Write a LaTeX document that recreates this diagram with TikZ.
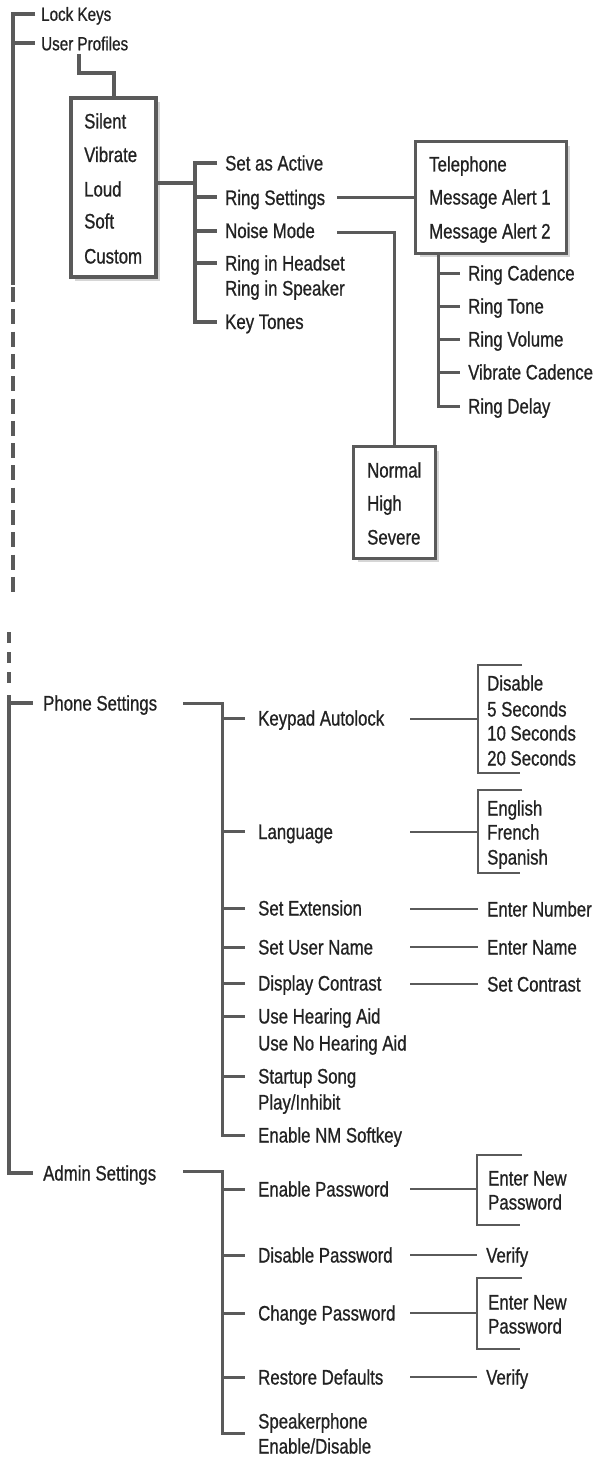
\documentclass[tikz,border=0pt]{standalone}
\usepackage{fontspec}
\setmainfont{Liberation Sans}[FakeStretch=0.8,FakeBold=0.8]
\usetikzlibrary{shadows}
\definecolor{ln}{HTML}{5A5A5A}
\definecolor{tx}{HTML}{222222}
\definecolor{shd}{HTML}{D6D6D6}
\begin{document}
\begin{tikzpicture}[x=1pt,y=-1pt,
  lbl/.style={anchor=west, inner sep=0pt, text height=15pt, text depth=0pt, text=tx, font=\fontsize{21}{25}\selectfont},
  slbl/.style={lbl, text height=13.6pt, font=\fontsize{19}{23}\selectfont},
  boxed/.style={draw=ln, fill=white, inner sep=0pt, general shadow={fill=shd, shadow xshift=4pt, shadow yshift=-4pt}},
  wA/.style={draw=ln, line width=4pt},
  wB/.style={draw=ln, line width=3pt},
  wC/.style={draw=ln, line width=2.2pt}]
\useasboundingbox (0,0) rectangle (597,1458);

% ---------- top section ----------
\node[slbl] (lk) at (41,14) {Lock Keys};
\node[slbl] (up) at (41,43.5) {User Profiles};
\coordinate (t0) at (13,10);
\coordinate (t1) at (13,285);
\coordinate (t2) at (13,287);
\coordinate (t3) at (13,592);
\draw[wA] ([xshift=-6pt]lk.west) -| (t1);
\draw[wA] (t0 |- up.west) -- ([xshift=-6pt]up.west);
\draw[draw=ln, line width=3.5pt, dash pattern=on 15pt off 7.3pt] (t2) -- (t3);

\node[boxed, line width=4pt, minimum width=85pt, minimum height=179pt] (box1) at (113.5,187.5) {};
\node[lbl] (sil) at (84,121) {Silent};
\node[lbl] (vib) at (84,154.5) {Vibrate};
\node[lbl] (lou) at (84,189) {Loud};
\node[lbl] (sof) at (84,221) {Soft};
\node[lbl] (cus) at (84,256) {Custom};
\coordinate (u1) at (79,54);
\draw[wA] (u1) |- (113.5,73) -- (box1.north);

\coordinate (j1) at (195,183);
\draw[wA] (j1 -| box1.east) -- (j1);

\node[lbl] (sa) at (225,163) {Set as Active};
\node[lbl] (rs) at (225,197.5) {Ring Settings};
\node[lbl] (nm) at (225,230.5) {Noise Mode};
\node[lbl] (rh) at (225,263) {Ring in Headset};
\node[lbl] (rsp) at (225,288) {Ring in Speaker};
\node[lbl] (kt) at (225,321.5) {Key Tones};
\draw[wA] ([xshift=-8pt]sa.west) -| (j1 |- kt.west) -- ([xshift=-8pt]kt.west);
\foreach \n in {rs,nm,rh}{\draw[wA] (j1 |- \n.west) -- ([xshift=-8pt]\n.west);}

\node[boxed, line width=3pt, minimum width=150.5pt, minimum height=111pt] (tbox) at (491,197.5) {};
\node[lbl] (tel) at (429,164) {Telephone};
\node[lbl] (ma1) at (429,197) {Message Alert 1};
\node[lbl] (ma2) at (429,231) {Message Alert 2};
\coordinate (xa) at (337,0);
\draw[wC] (xa |- rs.west) -- (rs.west -| tbox.west);

\node[lbl] (rc) at (468,273) {Ring Cadence};
\node[lbl] (rt) at (468,306) {Ring Tone};
\node[lbl] (rv) at (468,339) {Ring Volume};
\node[lbl] (vc) at (468,372) {Vibrate Cadence};
\node[lbl] (rd) at (468,406) {Ring Delay};
\coordinate (b3) at (438,0);
\draw[wB] (b3 |- tbox.south) -- (b3 |- rd.west) -- ([xshift=-8pt]rd.west);
\foreach \n in {rc,rt,rv,vc}{\draw[wB] (b3 |- \n.west) -- ([xshift=-8pt]\n.west);}

\node[boxed, line width=3pt, minimum width=81.5pt, minimum height=111.5pt] (nbox) at (394.5,502.25) {};
\node[lbl] (nor) at (367,470) {Normal};
\node[lbl] (hig) at (367,503) {High};
\node[lbl] (sev) at (367,537) {Severe};
\draw[wB] ([yshift=-2pt]xa |- nm.west) -| (nbox.north);

% ---------- lower section ----------
\coordinate (m0) at (9,632);
\coordinate (m1) at (9,687);
\coordinate (m2) at (9,695);
\draw[draw=ln, line width=3.5pt, dash pattern=on 11pt off 9pt] (m0) -- (m1);

\node[lbl] (ps) at (43,703) {Phone Settings};
\node[lbl] (as) at (43,1173) {Admin Settings};
\draw[draw=ln, line width=3.5pt] (m2) |- ([xshift=-10pt]as.west);
\draw[draw=ln, line width=3.5pt] (m2 |- ps.west) -- ([xshift=-10pt]ps.west);

\node[lbl] (ka) at (258,718) {Keypad Autolock};
\node[lbl] (lang) at (258,831.5) {Language};
\node[lbl] (se) at (258,908) {Set Extension};
\node[lbl] (sun) at (258,947) {Set User Name};
\node[lbl] (dc) at (258,983) {Display Contrast};
\node[lbl] (uha) at (258,1016) {Use Hearing Aid};
\node[lbl] (unh) at (258,1043) {Use No Hearing Aid};
\node[lbl] (ss) at (258,1076) {Startup Song};
\node[lbl] (pi) at (258,1102) {Play/Inhibit};
\node[lbl] (enm) at (258,1135) {Enable NM Softkey};

\coordinate (xp) at (183,0);
\coordinate (b4) at (222,0);
\draw[wB] (xp |- ps.west) -| (b4 |- enm.west) -- ([xshift=-13pt]enm.west);
\foreach \n in {ka,lang,se,sun,dc,uha,ss}{\draw[wB] (b4 |- \n.west) -- ([xshift=-13pt]\n.west);}

\coordinate (xr) at (410,0);
\coordinate (xb) at (478,0);
\node[lbl] (dis) at (487,683) {Disable};
\node[lbl] (s5) at (487,709) {5 Seconds};
\node[lbl] (s10) at (487,733) {10 Seconds};
\node[lbl] (s20) at (487,758) {20 Seconds};
\draw[wC] ([yshift=-1pt]xr |- ka.west) -- ([yshift=-1pt]xb |- ka.west);
\draw[wC] (522,665) -- (xb |- 0,665) -- (xb |- 0,773) -- (520,773);

\node[lbl] (eng) at (487,808) {English};
\node[lbl] (fre) at (487,832) {French};
\node[lbl] (spa) at (487,857) {Spanish};
\draw[wC] (xr |- fre.west) -- (xb |- fre.west);
\draw[wC] (522,790) -- (xb |- 0,790) -- (xb |- 0,873) -- (520,873);

\node[lbl] (enu) at (487,909) {Enter Number};
\node[lbl] (ena) at (487,947) {Enter Name};
\node[lbl] (sct) at (487,984) {Set Contrast};
\foreach \n in {enu,ena,sct}{\draw[wC] (xr |- \n.west) -- ([xshift=-9pt]\n.west);}

\node[lbl] (ep) at (258,1189) {Enable Password};
\node[lbl] (dp) at (258,1255) {Disable Password};
\node[lbl] (cp) at (258,1313) {Change Password};
\node[lbl] (rdf) at (258,1377) {Restore Defaults};
\node[lbl] (spk) at (258,1421) {Speakerphone};
\node[lbl] (ed) at (258,1446) {Enable/Disable};
\coordinate (sk) at (245,1433);
\draw[wB] ([yshift=2pt]xp |- as.west) -| (b4 |- sk) -- (sk);
\foreach \n in {ep,dp,cp,rdf}{\draw[wB] (b4 |- \n.west) -- ([xshift=-13pt]\n.west);}

\node[lbl] (en1) at (488,1178) {Enter New};
\node[lbl] (pw1) at (488,1202) {Password};
\node[lbl] (ve1) at (486,1255) {Verify};
\node[lbl] (en2) at (488,1302) {Enter New};
\node[lbl] (pw2) at (488,1326) {Password};
\node[lbl] (ve2) at (486,1377) {Verify};
\coordinate (xc) at (477,0);
\draw[wC] (xr |- ep.west) -- (xc |- ep.west);
\draw[wC] (522,1155) -- (xc |- 0,1155) -- (xc |- 0,1225) -- (520,1225);
\draw[wC] (xr |- ve1.west) -- ([xshift=-9pt]ve1.west);
\draw[wC] (xr |- cp.west) -- (xc |- cp.west);
\draw[wC] (522,1278) -- (xc |- 0,1278) -- (xc |- 0,1349) -- (520,1349);
\draw[wC] (xr |- ve2.west) -- ([xshift=-9pt]ve2.west);
\end{tikzpicture}
\end{document}
